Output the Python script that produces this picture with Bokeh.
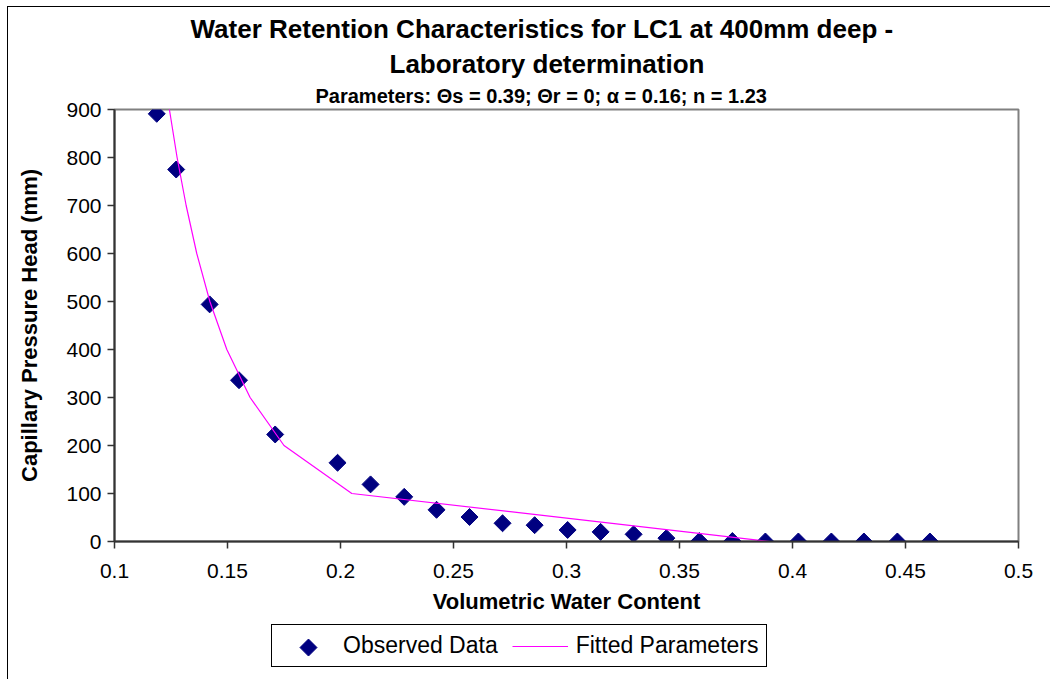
import numpy as np
from bokeh.plotting import figure
from bokeh.layouts import column
from bokeh.models import (FixedTicker, CustomJSTickFormatter, Title, Legend, LegendItem,
                          Range1d)
from bokeh.embed import file_html
from bokeh.resources import INLINE

# Observed data (volumetric water content, capillary pressure head mm)
obs_theta = [0.1187, 0.1273, 0.1421, 0.1551, 0.1711, 0.1987, 0.2133, 0.2282,
             0.2425, 0.2571, 0.2717, 0.2859, 0.3005, 0.3151, 0.3297, 0.3442,
             0.3588, 0.3734, 0.3880, 0.4026, 0.4172, 0.4316, 0.4464, 0.4608]
obs_head = [891, 775, 494, 336, 223, 164, 119, 93,
            66, 51, 38, 34, 24, 20, 15, 7,
            1, 1, 0, 0, 0, 0, 0, 0]

# Fitted parameters curve
fit_theta = [0.390, 0.205, 0.175, 0.160, 0.1497, 0.1422, 0.1364, 0.1317, 0.1277, 0.1243, 0.1213]
fit_head = [0, 100, 200, 300, 400, 500, 600, 700, 800, 900, 1000]

x_ticks = [0.1, 0.15, 0.2, 0.25, 0.3, 0.35, 0.4, 0.45, 0.5]
y_ticks = [0, 100, 200, 300, 400, 500, 600, 700, 800, 900]

title1 = "Water Retention Characteristics for LC1 at 400mm deep -"
title2 = "Laboratory determination"
subtitle = "Parameters: \u0398s = 0.39; \u0398r = 0; \u03b1 = 0.16; n = 1.23"
series_names = ["Observed Data", "Fitted Parameters"]

FONT = "Liberation Sans"
OBS_COLOR = "#000080"
FIT_COLOR = "#FF00FF"

p = figure(width=1043, output_backend="svg", toolbar_location=None,
           x_range=Range1d(0.1, 0.5), y_range=Range1d(0, 900),
           frame_width=904, frame_height=432,
           min_border_left=106, min_border_right=33, min_border_top=102, min_border_bottom=10)
p.title = None
p.background_fill_color = "white"
p.border_fill_color = "white"
p.xgrid.visible = False
p.ygrid.visible = False
p.outline_line_color = "#808080"
p.outline_line_width = 2

# Titles (added innermost first)
p.add_layout(Title(text=subtitle, align="left", text_font=FONT, text_font_size="20px",
                   text_font_style="bold", text_color="black", offset=201,
                   standoff=5), "above")
p.add_layout(Title(text=title2, align="left", text_font=FONT, text_font_size="26px",
                   text_font_style="bold", text_color="black", offset=275,
                   standoff=3), "above")
p.add_layout(Title(text=title1, align="left", text_font=FONT, text_font_size="26px",
                   text_font_style="bold", text_color="black", offset=76,
                   standoff=4), "above")

p.scatter(obs_theta, obs_head, marker="square", angle=np.pi / 4, size=12,
          fill_color=OBS_COLOR, line_color=OBS_COLOR)
p.line(fit_theta, fit_head, line_color=FIT_COLOR, line_width=1.2)

for ax in (p.xaxis[0], p.yaxis[0]):
    ax.axis_line_color = "#333333"
    ax.axis_line_width = 2
    ax.major_tick_line_color = "#333333"
    ax.major_tick_line_width = 1.5
    ax.major_tick_out = 7
    ax.major_tick_in = 0
    ax.minor_tick_out = 0
    ax.minor_tick_in = 0
    ax.major_label_text_font = FONT
    ax.major_label_text_font_size = "21px"
    ax.major_label_text_color = "black"
    ax.axis_label_text_font = FONT
    ax.axis_label_text_font_size = "22px"
    ax.axis_label_text_font_style = "bold"
    ax.axis_label_text_color = "black"

p.xaxis.ticker = FixedTicker(ticks=x_ticks)
p.yaxis.ticker = FixedTicker(ticks=y_ticks)
p.xaxis.formatter = CustomJSTickFormatter(code="return tick.toFixed(2).replace(/0$/, '');")
p.yaxis.formatter = CustomJSTickFormatter(code="return tick.toFixed(0);")
p.xaxis.axis_label = "Volumetric Water Content"
p.yaxis.axis_label = "Capillary Pressure Head (mm)"
p.xaxis.major_label_standoff = 15
p.yaxis.major_label_standoff = 6
p.xaxis.axis_label_standoff = 8
p.yaxis.axis_label_standoff = 21

# Legend strip below the chart (its frame is aligned with the main frame)
lg = figure(width=1043, height=64, output_backend="svg", toolbar_location=None,
            x_range=Range1d(0, 1), y_range=Range1d(0, 1),
            min_border_left=0, min_border_right=0, min_border_top=0, min_border_bottom=0)
lg.axis.visible = False
lg.grid.visible = False
lg.outline_line_color = None
lg.border_fill_color = "white"
# legend key for observed data: rotated square drawn under a transparent legend
r_obs = lg.scatter([-5], [-5], marker="square", size=12, fill_alpha=0, line_alpha=0)
lg.scatter([0.2146], [0.515], marker="square", angle=np.pi / 4, size=12,
           fill_color=OBS_COLOR, line_color=OBS_COLOR)
r_fit = lg.line([-5, -4], [-5, -5], line_color=FIT_COLOR, line_width=1.2)
legend = Legend(items=[LegendItem(label=series_names[0], renderers=[r_obs]),
                       LegendItem(label=series_names[1], renderers=[r_fit])],
                orientation="horizontal", location=(157, 13),
                label_text_font=FONT, label_text_font_size="23px", label_text_color="black",
                border_line_color="black", border_line_width=1, border_line_alpha=1,
                glyph_width=56, glyph_height=22, label_height=22, spacing=14, padding=7, margin=0,
                label_standoff=8, background_fill_alpha=0)
lg.add_layout(legend, "center")

layout = column(p, lg, spacing=0, margin=(6, 0, 0, 7),
                styles={"border-left": "1px solid #000", "border-top": "1px solid #000"})

open("out.html", "w").write(file_html(layout, INLINE))
